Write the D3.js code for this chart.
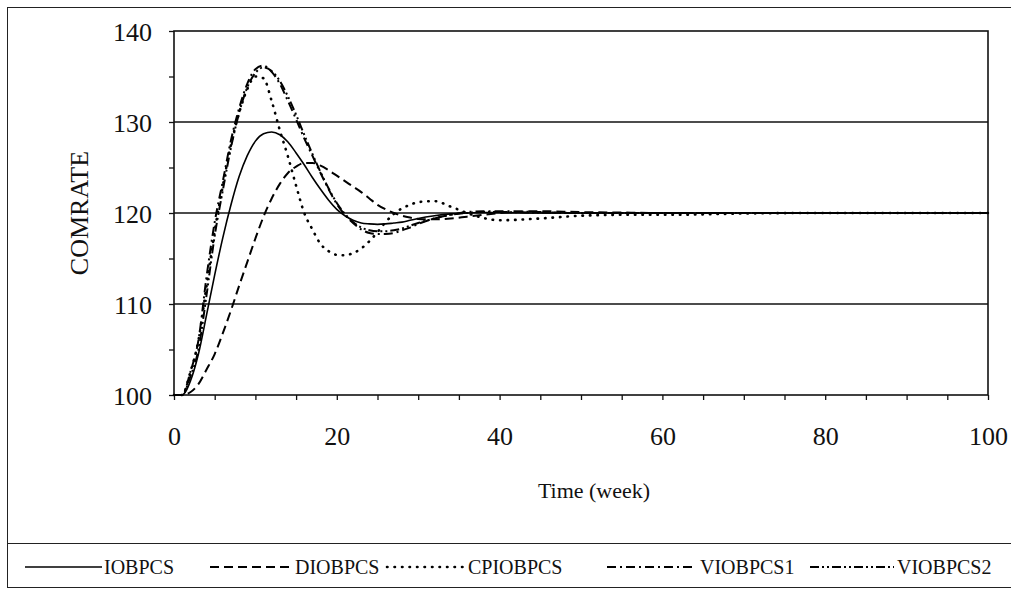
<!DOCTYPE html>
<html><head><meta charset="utf-8">
<script src="https://cdn.jsdelivr.net/npm/d3@7"></script>
<style>
html,body{margin:0;padding:0;background:#fff;}
svg{display:block;font-family:"Liberation Serif","Times New Roman",serif;}
</style></head>
<body>
<svg id="chart" width="1011" height="589"></svg>
<script>
const weeks = [0,1,2,3,4,5,6,7,8,9,10,11,12,13,14,15,16,17,18,19,20,21,22,23,24,25,26,27,28,29,30,32,34,36,38,40,45,50,55,60,65,70,80,90,100];
const IOBPCS = [100,100,101.5,104.5,108.8,113.2,117.3,120.9,124,126.3,127.9,128.7,128.9,128.6,127.8,126.6,125.3,123.9,122.6,121.4,120.4,119.7,119.2,118.9,118.8,118.75,118.8,118.9,119,119.2,119.4,119.7,119.9,120,120.05,120.05,120,120,120,120,120,120,120,120,120];
const DIOBPCS = [100,100,100.3,101.2,102.8,104.5,106.8,109.3,112,114.6,117.2,119.6,121.6,123.2,124.4,125.1,125.5,125.5,125.2,124.7,124.1,123.5,122.9,122.3,121.6,120.9,120.4,120,119.7,119.5,119.35,119.3,119.4,119.6,119.8,120,120.2,120.1,120.05,120,120,120,120,120,120];
const CPIOBPCS = [100,100,102.5,106,112,118,123,127.5,131,133.6,135,134.8,132.3,129.1,126.2,123,120,118.2,116.6,115.8,115.4,115.35,115.6,116.1,116.9,117.9,119,119.9,120.5,120.9,121.2,121.3,120.7,120,119.45,119.2,119.4,119.7,119.8,119.8,119.85,119.95,120,120,120];
const VIOBPCS1 = [100,100,102.5,106,113,119,123.5,128,131.5,134.2,135.8,136.2,135.5,134.2,132.3,130.3,128.2,126.3,124.4,122.6,121,119.8,118.9,118.2,117.8,117.7,117.7,117.8,118.1,118.4,118.8,119.4,119.8,120.1,120.2,120.2,120.1,120,120,120,120,120,120,120,120];
const VIOBPCS2 = [100,100,102,105,111,117.5,122.5,127.2,131,133.8,135.4,136,135.6,134.5,132.8,130.8,128.6,126.5,124.5,122.7,121.1,119.9,119,118.4,118.1,118,118,118.1,118.3,118.6,118.9,119.4,119.8,120,120.1,120.1,120.05,120,120,120,120,120,120,120,120];
const seriesNames = ["IOBPCS","DIOBPCS","CPIOBPCS","VIOBPCS1","VIOBPCS2"];
const yTicks = [100,110,120,130,140];
const xTicks = [0,20,40,60,80,100];

const seriesData = [IOBPCS, DIOBPCS, CPIOBPCS, VIOBPCS1, VIOBPCS2];
const styles = [
  {w:1.6, dash:null, cap:"butt"},
  {w:2, dash:"9,5", cap:"butt"},
  {w:2.6, dash:"0.5,7", cap:"round"},
  {w:2, dash:"9,4,2,4", cap:"butt"},
  {w:2, dash:"9,3,2,3,2,3", cap:"butt"}
];

const svg = d3.select("#chart");
const x = d3.scaleLinear().domain([0,100]).range([174,988]);
const y = d3.scaleLinear().domain([100,140]).range([395,31]);

// outer frame
svg.append("rect").attr("x",7.5).attr("y",7.5).attr("width",1010).attr("height",580)
  .attr("fill","none").attr("stroke","#222").attr("stroke-width",1);
svg.append("line").attr("x1",7).attr("x2",1011).attr("y1",543.5).attr("y2",543.5)
  .attr("stroke","#222").attr("stroke-width",1.2);

// gridlines
svg.append("g").selectAll("line").data(yTicks.filter(d=>d>100 && d<140)).join("line")
  .attr("x1",x(0)).attr("x2",x(100)).attr("y1",d=>y(d)).attr("y2",d=>y(d))
  .attr("stroke","#111").attr("stroke-width",1.3);

// plot border
svg.append("rect").attr("x",x(0)).attr("y",y(140)).attr("width",x(100)-x(0)).attr("height",y(100)-y(140))
  .attr("fill","none").attr("stroke","#111").attr("stroke-width",1.6);

// minor ticks
const yMinor = d3.range(100,140.1,5);
const xMinor = d3.range(0,100.1,5);
svg.append("g").attr("transform",`translate(${x(0)},0)`)
  .call(d3.axisLeft(y).tickValues(yMinor).tickSize(5).tickFormat(""))
  .call(g=>{g.select(".domain").remove(); g.selectAll("line").attr("stroke","#111").attr("stroke-width",1.3);});
svg.append("g").attr("transform",`translate(0,${y(100)})`)
  .call(d3.axisBottom(x).tickValues(xMinor).tickSize(5).tickFormat(""))
  .call(g=>{g.select(".domain").remove(); g.selectAll("line").attr("stroke","#111").attr("stroke-width",1.3);});

// tick labels
svg.append("g").attr("transform",`translate(${x(0)},0)`)
  .call(d3.axisLeft(y).tickValues(yTicks).tickSize(0).tickPadding(22))
  .call(g=>{g.select(".domain").remove(); g.selectAll("text").attr("font-size",26).attr("fill","#111")
     .attr("font-family","Liberation Serif").attr("dy","0.38em");});
svg.append("g").attr("transform",`translate(0,${y(100)})`)
  .call(d3.axisBottom(x).tickValues(xTicks).tickSize(0).tickPadding(32))
  .call(g=>{g.select(".domain").remove(); g.selectAll("text").attr("font-size",26).attr("fill","#111")
     .attr("font-family","Liberation Serif");});

// axis titles
svg.append("text").attr("x",594).attr("y",498).attr("text-anchor","middle")
  .attr("font-size",22).attr("fill","#111").text("Time (week)");
svg.append("text").attr("transform","translate(88,213) rotate(-90)").attr("text-anchor","middle")
  .attr("font-size",26).attr("fill","#111").text("COMRATE");

// lines
const line = d3.line().x((d,i)=>x(weeks[i])).y(d=>y(d)).curve(d3.curveMonotoneX);
seriesData.forEach((s,k)=>{
  svg.append("path").datum(s).attr("d",line).attr("fill","none").attr("stroke","#000")
    .attr("stroke-width",styles[k].w).attr("stroke-dasharray",styles[k].dash)
    .attr("stroke-linecap", styles[k].cap);
});

// legend
const legX = [[25,102,104],[210,292,295],[387,465,468],[607,692,700],[810,894,897]];
const leg = svg.append("g");
seriesNames.forEach((n,k)=>{
  leg.append("line").attr("x1",legX[k][0]).attr("x2",legX[k][1]).attr("y1",567).attr("y2",567)
    .attr("stroke","#000").attr("stroke-width",styles[k].w).attr("stroke-dasharray",styles[k].dash)
    .attr("stroke-linecap", styles[k].cap);
  leg.append("text").attr("x",legX[k][2]).attr("y",574).attr("font-size",20).attr("fill","#111").text(n);
});
</script>
</body></html>
